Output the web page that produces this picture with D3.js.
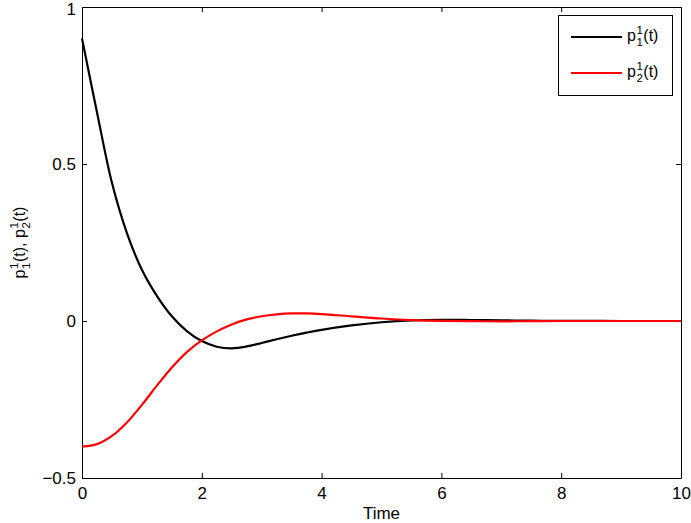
<!DOCTYPE html>
<html>
<head>
<meta charset="utf-8">
<script src="https://cdn.jsdelivr.net/npm/d3@7"></script>
<style>
    body { margin: 0; background: #fff; }
    text { font-family: 'Liberation Sans', Arial, sans-serif; }
</style>
</head>
<body>
<svg id="chart" width="691" height="523"></svg>
<script>
// values
const time = [0, 0.25, 0.5, 0.75, 1, 1.25, 1.5, 1.75, 2, 2.25, 2.5, 2.75, 3, 3.25, 3.5, 3.75, 4, 4.5, 5, 5.5, 6, 6.5, 7, 7.5, 8, 9, 10];
const p1 = [0.9, 0.665, 0.44, 0.28, 0.163, 0.08, 0.015, -0.032, -0.064, -0.082, -0.087, -0.081, -0.07, -0.058, -0.047, -0.037, -0.028, -0.014, -0.004, 0.002, 0.004, 0.003, 0.002, 0.001, 0.0005, 0, 0];
const p2 = [-0.4, -0.392, -0.366, -0.323, -0.267, -0.206, -0.148, -0.099, -0.062, -0.033, -0.011, 0.005, 0.015, 0.021, 0.024, 0.024, 0.022, 0.015, 0.008, 0.003, 0.0005, -0.0005, -0.001, -0.0005, 0, 0, 0];
const xTicks = [0, 2, 4, 6, 8, 10];
const yTicks = [-0.5, 0, 0.5, 1];
const series = [
    { name: 'p1', sub: '1', values: p1, color: '#000' },
    { name: 'p2', sub: '2', values: p2, color: '#ff0000' }
];

const margin = { left: 82, top: 7, right: 10, bottom: 45 };
const width = 691 - margin.left - margin.right;
const height = 523 - margin.top - margin.bottom;
const fontSize = 17;

const svg = d3.select('#chart');
const g = svg.append('g')
    .attr('transform', 'translate(' + margin.left + ',' + margin.top + ')');

const x = d3.scaleLinear().domain([0, 10]).range([0, width]);
const y = d3.scaleLinear().domain([-0.5, 1]).range([height, 0]);

// axes, ticks point inwards like matlab
function styleAxis(sel) {
    sel.selectAll('path').attr('stroke', '#000');
    sel.selectAll('line').attr('stroke', '#000');
    sel.selectAll('text').attr('font-size', fontSize).attr('fill', '#000')
        .style('font-family', "'Liberation Sans', Arial, sans-serif");
}

g.append('g')
    .attr('transform', 'translate(0,' + height + ')')
    .call(d3.axisBottom(x).tickValues(xTicks).tickSizeInner(-5).tickSizeOuter(0).tickPadding(9).tickFormat(d3.format('d')))
    .call(styleAxis);
g.append('g')
    .call(d3.axisTop(x).tickValues(xTicks).tickSizeInner(-5).tickSizeOuter(0).tickFormat(''))
    .call(styleAxis);
const yAxis = g.append('g')
    .call(d3.axisLeft(y).tickValues(yTicks).tickSizeInner(-5).tickSizeOuter(0).tickPadding(6).tickFormat(d3.format('')))
    .call(styleAxis);
// keep the top label inside the picture
yAxis.selectAll('.tick').filter(function (d) { return d === 1; }).select('text').attr('dy', '0.42em');
g.append('g')
    .attr('transform', 'translate(' + width + ',0)')
    .call(d3.axisRight(y).tickValues(yTicks).tickSizeInner(-5).tickSizeOuter(0).tickFormat(''))
    .call(styleAxis);

const line = d3.line()
    .x(function (d, i) { return x(time[i]); })
    .y(function (d) { return y(d); })
    .curve(d3.curveCatmullRom.alpha(0.5));

series.forEach(function (s) {
    g.append('path')
        .datum(s.values)
        .attr('fill', 'none')
        .attr('stroke', s.color)
        .attr('stroke-width', 2.2)
        .attr('d', line);
});

// p with super/sub scripts
function pLabel(parent, px, py, sub, size) {
    const t = parent.append('text').attr('x', px).attr('y', py).attr('font-size', size).attr('fill', '#000');
    t.text('p');
    const pw = t.node().getComputedTextLength();
    const small = size * 0.72;
    parent.append('text').attr('x', px + pw + 0.5).attr('y', py - size * 0.42).attr('font-size', small).text('1');
    parent.append('text').attr('x', px + pw + 0.5).attr('y', py + size * 0.3).attr('font-size', small).text(sub);
    const sw = small * 0.556;
    const t2 = parent.append('text').attr('x', px + pw + sw + 1).attr('y', py).attr('font-size', size).text('(t)');
    return pw + sw + 1 + t2.node().getComputedTextLength();
}

// legend
const legend = svg.append('g');
legend.append('rect')
    .attr('x', 558.5).attr('y', 15.5).attr('width', 114).attr('height', 80)
    .attr('fill', '#fff').attr('stroke', '#000').attr('stroke-width', 1);
series.forEach(function (s, i) {
    const ly = 37 + i * 36;
    legend.append('line')
        .attr('x1', 571).attr('x2', 622).attr('y1', ly).attr('y2', ly)
        .attr('stroke', s.color).attr('stroke-width', 2.2);
    pLabel(legend, 627, ly + 4, s.sub, 16);
});

// axis labels
svg.append('text')
    .attr('x', margin.left + width / 2).attr('y', 519)
    .attr('text-anchor', 'middle').attr('font-size', fontSize).text('Time');

const yl = svg.append('g')
    .attr('transform', 'translate(25,' + (margin.top + height / 2) + ') rotate(-90)');
const ylabel = yl.append('g');
let off = pLabel(ylabel, 0, 0, '1', 16);
ylabel.append('text').attr('x', off).attr('y', 0).attr('font-size', 16).text(',');
off += 9;
off += pLabel(ylabel, off, 0, '2', 16);
ylabel.attr('transform', 'translate(' + (-off / 2) + ',0)');
</script>
</body>
</html>
